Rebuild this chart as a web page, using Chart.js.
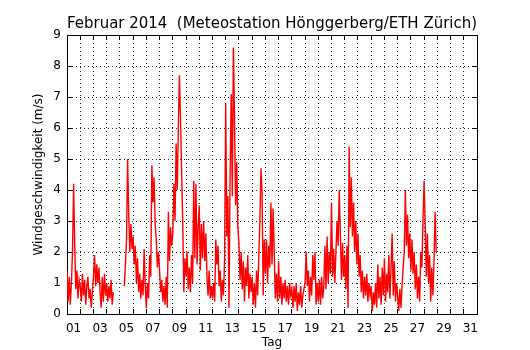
<!DOCTYPE html>
<html>
<head>
<meta charset="utf-8">
<script src="https://cdn.jsdelivr.net/npm/chart.js@4.4.1/dist/chart.umd.min.js"></script>
<style>
  body { margin: 0; background: #fff; }
  canvas { display: block; }
</style>
</head>
<body>
<canvas id="chart" width="530" height="350"></canvas>
<script>
// Windgeschwindigkeit, ein Wert alle 2 Stunden (12 pro Tag), Februar 2014
const stepsPerDay = 12;
const windSpeed = [
    1.4, 0.4, 1.2, 0.3, 1.0, 2.0, 4.2, 2.2, 0.8, 1.4, 0.5, 1.1,   // 01
    0.9, 0.4, 1.3, 0.6, 1.1, 0.3, 0.9, 1.2, 0.5, 0.8, 0.2, 0.7,   // 02
    1.2, 1.9, 0.9, 1.6, 1.0, 1.5, 0.7, 0.2, 1.2, 0.4, 1.3, 0.6,   // 03
    1.0, 0.4, 0.9, 0.5, 1.1, 0.3, 0.7, null, null, null, null, null, // 04
    null, null, null, null, 0.9, 1.6, 2.4, 5.0, 3.2, 2.0, 2.9, 2.1, // 05
    2.5, 1.6, 2.2, 1.0, 1.8, 0.7, 1.3, 0.5, 1.1, 0.6, 2.1, 0.9,   // 06
    0.2, 1.0, 0.5, 1.9, 1.2, 4.8, 3.6, 4.4, 2.9, 2.4, 1.5, 2.0,   // 07
    1.4, 0.7, 1.1, 0.4, 0.9, 0.3, 1.2, 0.2, 3.3, 1.7, 2.8, 2.2,   // 08
    2.6, 4.2, 3.0, 5.5, 4.0, 6.0, 7.7, 6.3, 4.6, 3.0, 0.7, 1.8,   // 09
    1.2, 2.0, 0.8, 1.5, 0.7, 1.9, 1.0, 4.3, 1.8, 4.2, 1.6, 2.8,   // 10
    3.5, 1.4, 2.9, 1.8, 3.0, 1.7, 2.6, 1.2, 0.6, 1.4, 0.5, 0.9,   // 11
    0.5, 1.0, 0.4, 2.4, 1.6, 2.2, 0.9, 1.4, 0.4, 1.1, 0.6, 1.8,   // 12
    6.8, 2.5, 3.8, 0.2, 4.5, 7.1, 3.8, 8.6, 6.2, 3.5, 4.9, 2.8,   // 13
    2.3, 1.1, 2.0, 0.8, 1.7, 0.4, 1.5, 0.9, 1.9, 0.5, 1.3, 0.7,   // 14
    1.2, 0.3, 1.0, 0.2, 1.4, 0.6, 1.8, 3.0, 4.7, 3.9, 0.6, 2.4,   // 15
    1.3, 2.4, 1.0, 2.2, 1.5, 3.6, 1.6, 3.4, 2.0, 0.5, 1.3, 0.4,   // 16
    1.7, 0.5, 1.2, 0.3, 1.0, 0.5, 1.1, 0.4, 0.9, 0.3, 1.0, 0.6,   // 17
    0.8, 0.2, 0.9, 0.4, 1.0, 0.1, 0.7, 0.3, 0.9, 0.2, 0.6, 0.8,   // 18
    1.0, 2.0, 0.9, 1.4, 0.4, 1.2, 0.6, 1.9, 1.1, 2.0, 0.3, 1.0,   // 19
    0.4, 1.1, 0.3, 1.2, 0.5, 0.9, 2.2, 0.8, 2.5, 1.0, 2.0, 1.3,   // 20
    3.6, 1.2, 2.1, 1.0, 2.0, 3.0, 2.2, 4.0, 2.6, 1.1, 2.3, 1.2,   // 21
    1.9, 0.8, 2.2, 0.2, 5.4, 2.8, 4.4, 2.5, 3.6, 2.0, 3.0, 1.6,   // 22
    2.6, 1.2, 1.9, 0.7, 1.4, 0.5, 1.2, 0.6, 1.3, 0.4, 1.0, 0.6,   // 23
    0.9, 0.1, 0.7, 0.3, 1.0, 0.2, 1.6, 0.5, 1.2, 0.3, 1.5, 0.6,   // 24
    1.8, 0.4, 1.3, 0.7, 1.9, 0.5, 1.5, 2.6, 0.6, 1.7, 0.4, 1.0,   // 25
    0.6, 0.1, 0.8, 0.2, 0.9, 1.5, 2.0, 4.0, 2.2, 3.2, 1.8, 2.6,   // 26
    1.4, 2.4, 1.3, 2.0, 0.8, 1.6, 0.5, 1.2, 0.4, 2.0, 1.5, 3.0,   // 27
    4.3, 2.9, 1.2, 2.6, 1.0, 1.9, 0.4, 1.5, 0.6, 1.7, 3.3, 2.0    // 28
];
const dayLabels = ['01','03','05','07','09','11','13','15','17','19','21','23','25','27','29','31'];
const daysShown = 31;
const yMax = 9;

const points = windSpeed.map((v, i) => ({ x: i / stepsPerDay, y: v }));

const font = { family: 'DejaVu Sans', size: 12 };
// gepunktetes Gitter, Ticks nach innen wie bei matplotlib
const dottedGrid = { color: 'rgba(0,0,0,0.85)', lineWidth: 1, drawTicks: true, tickLength: -5, tickColor: '#000', tickWidth: 1 };
const tickOnly = Object.assign({}, dottedGrid, { drawOnChartArea: false });
const frame = { display: true, color: '#000', width: 1, dash: [1, 3] };

new Chart(document.getElementById('chart'), {
    type: 'line',
    data: {
        datasets: [{
            data: points,
            borderColor: '#ff0000',
            borderWidth: 1.4,
            pointRadius: 0,
            tension: 0,
            spanGaps: false
        }]
    },
    options: {
        responsive: false,
        animation: false,
        layout: { padding: 0 },
        plugins: {
            legend: { display: false },
            tooltip: { enabled: false },
            title: {
                display: true,
                fullSize: false,
                text: 'Februar 2014  (Meteostation Hönggerberg/ETH Zürich)',
                color: '#000',
                font: { family: 'DejaVu Sans', size: 15, weight: 'normal' },
                padding: { top: 15, bottom: 0 }
            }
        },
        scales: {
            x: {
                type: 'linear',
                position: 'bottom',
                min: 0,
                max: daysShown,
                afterFit: s => { s.height = 36; },
                grid: dottedGrid,
                border: frame,
                ticks: {
                    stepSize: 1,
                    autoSkip: false,
                    maxRotation: 0,
                    padding: 13,
                    labelOffset: 6.6,
                    color: '#000',
                    font: font,
                    callback: v => (v % 2 === 0 && v < daysShown) ? dayLabels[v / 2] : ''
                },
                title: { display: true, text: 'Tag', color: '#000', font: font, padding: { top: 0, bottom: 0 } }
            },
            x2: {
                type: 'linear',
                position: 'top',
                min: 0,
                max: daysShown,
                afterFit: s => { s.height = 2; },
                grid: tickOnly,
                border: frame,
                ticks: { display: false, stepSize: 1 }
            },
            y: {
                min: 0,
                max: yMax,
                afterFit: s => { s.width = 67; },
                grid: dottedGrid,
                border: frame,
                ticks: { stepSize: 1, padding: 11, color: '#000', font: font },
                title: { display: true, text: 'Windgeschwindigkeit (m/s)', color: '#000', font: font, padding: { top: 32, bottom: 0 } }
            },
            y2: {
                position: 'right',
                min: 0,
                max: yMax,
                afterFit: s => { s.width = 53; },
                grid: tickOnly,
                border: frame,
                ticks: { display: false, stepSize: 1 }
            }
        }
    }
});
</script>
</body>
</html>
